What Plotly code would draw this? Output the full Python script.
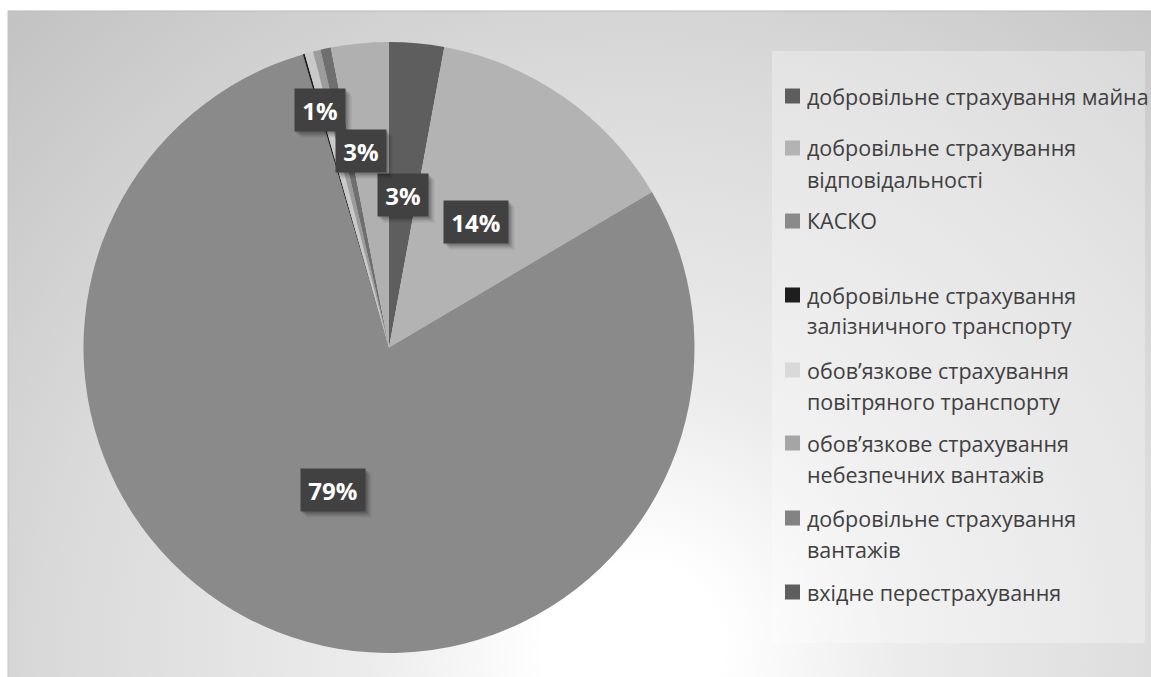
import textwrap
import urllib.parse

import numpy as np
import plotly.graph_objects as go

# ---- data -------------------------------------------------------------
categories = [
    "добровільне страхування майна",
    "добровільне страхування відповідальності",
    "КАСКО",
    "добровільне страхування залізничного транспорту",
    "обов’язкове страхування повітряного транспорту",
    "обов’язкове страхування небезпечних вантажів",
    "добровільне страхування вантажів",
    "вхідне перестрахування",
]
shares = [2.9, 13.6, 78.95, 0.1, 0.45, 0.4, 0.55, 3.05]

# ---- styling ----------------------------------------------------------
slice_colors = ["#5e5e5e", "#b3b3b3", "#8a8a8a", "#1e1e1e",
                "#c9c9c9", "#9c9c9c", "#6f6f6f", "#b0b0b0"]
legend_colors = ["#5e5e5e", "#b3b3b3", "#8a8a8a", "#1e1e1e",
                 "#d9d9d9", "#a5a5a5", "#838383", "#5e5e5e"]
# radial placement of value boxes (fraction of radius) and extra turn (deg)
label_radius = [0.5, 0.5, 0.5, None, None, None, 0.81, 0.65]
label_turn = [0, 0, 0, 0, 0, 0, -4.2, -2.5]

W, H = 1151, 677
CX, CY, R = 389.0, 347.5, 305.5          # pie centre / radius in px
FONT = "Open Sans"


def px(x, y):
    """pixel position (top-left origin) -> paper coordinates"""
    return x / W, 1 - y / H


fig = go.Figure()

fig.add_trace(go.Pie(
    labels=categories,
    values=shares,
    sort=False,
    direction="clockwise",
    rotation=0,
    marker=dict(colors=slice_colors, line=dict(width=0)),
    textinfo="none",
    hoverinfo="label+percent",
    showlegend=False,
    domain=dict(x=[(CX - R) / W, (CX + R) / W],
                y=[1 - (CY + R) / H, 1 - (CY - R) / H]),
))

# ---- value boxes --------------------------------------------------------
vals = np.array(shares, dtype=float)
total = vals.sum()
ends = np.cumsum(vals)
mids = (ends - vals / 2) / total * 360.0
annotations = []
for i, v in enumerate(vals):
    if label_radius[i] is None:
        continue
    pct = v / total * 100
    txt = f"{pct:.0f}%"
    ang = np.deg2rad(mids[i] + label_turn[i])
    x = CX + label_radius[i] * R * np.sin(ang)
    y = CY - label_radius[i] * R * np.cos(ang)
    ax, ay = px(x, y)
    bw = 23 + 13.5 * len(txt)
    for dx, alpha in ((6, 0.07), (4, 0.12), (2, 0.16)):
        annotations.append(dict(
            x=ax, y=ay, xref="paper", yref="paper", text=" ",
            xanchor="center", yanchor="middle",
            showarrow=False, width=bw, height=42, borderpad=0,
            bgcolor=f"rgba(0,0,0,{alpha})", xshift=dx, yshift=-dx,
            font=dict(size=10)))
    annotations.append(dict(
        x=ax, y=ay, xref="paper", yref="paper", text=f"<b>{txt}</b>",
        xanchor="center", yanchor="middle",
        showarrow=False, width=bw, height=42, borderpad=0,
        bgcolor="#414141",
        font=dict(family=FONT, size=24, color="white")))

# ---- legend ---------------------------------------------------------------
legend_top = [96, 148, 221, 295, 370, 443, 518, 592]
line_gap = 31
shapes = []
for i, name in enumerate(categories):
    lines = textwrap.wrap(name, 30)
    y0 = legend_top[i]
    x0, y0p = px(785, y0 - 7.5)
    x1, y1p = px(800, y0 + 7.5)
    shapes.append(dict(type="rect", xref="paper", yref="paper",
                       x0=x0, x1=x1, y0=y1p, y1=y0p,
                       fillcolor=legend_colors[i], line=dict(width=0)))
    for k, ln in enumerate(lines):
        tx, ty = px(805, y0 + k * line_gap)
        annotations.append(dict(
            x=tx, y=ty, xref="paper", yref="paper", text=ln,
            showarrow=False, xanchor="left", yanchor="middle",
            font=dict(family=FONT, size=21.5, color="#404040")))

# legend panel
lx0, ly0 = px(772, 51)
lx1, ly1 = px(1145, 643)
shapes.insert(0, dict(type="rect", xref="paper", yref="paper", layer="below",
                      x0=lx0, x1=lx1, y0=ly1, y1=ly0,
                      fillcolor="rgba(255,255,255,0.3)", line=dict(width=0)))

# chart-area frame lines
fx, fy = px(8, 11)
shapes.append(dict(type="line", xref="paper", yref="paper",
                   x0=fx, x1=1, y0=fy, y1=fy,
                   line=dict(color="#b9b9b9", width=1)))
shapes.append(dict(type="line", xref="paper", yref="paper",
                   x0=fx, x1=fx, y0=0, y1=fy,
                   line=dict(color="#c4c4c4", width=1)))

# radial background of the chart area
bw_, bh_ = W - 8, H - 11
svg = (
    f'<svg xmlns="http://www.w3.org/2000/svg" width="{bw_}" height="{bh_}">'
    '<defs><radialGradient id="g" gradientUnits="userSpaceOnUse" '
    f'cx="625" cy="640" r="880">'
    '<stop offset="0" stop-color="#ffffff"/>'
    '<stop offset="0.1" stop-color="#ffffff"/>'
    '<stop offset="0.3" stop-color="#ececec"/>'
    '<stop offset="0.65" stop-color="#dadada"/>'
    '<stop offset="1" stop-color="#c3c3c3"/>'
    '</radialGradient></defs>'
    f'<rect width="{bw_}" height="{bh_}" fill="url(#g)"/></svg>'
)
bg_src = "data:image/svg+xml;charset=utf-8," + urllib.parse.quote(svg)

fig.update_layout(
    width=W, height=H,
    margin=dict(l=0, r=0, t=0, b=0),
    paper_bgcolor="white",
    plot_bgcolor="white",
    showlegend=False,
    annotations=annotations,
    shapes=shapes,
    images=[dict(source=bg_src, xref="paper", yref="paper",
                 x=fx, y=fy, sizex=1 - fx, sizey=fy,
                 xanchor="left", yanchor="top", sizing="stretch",
                 layer="below")],
)

fig.write_html("out.html")
